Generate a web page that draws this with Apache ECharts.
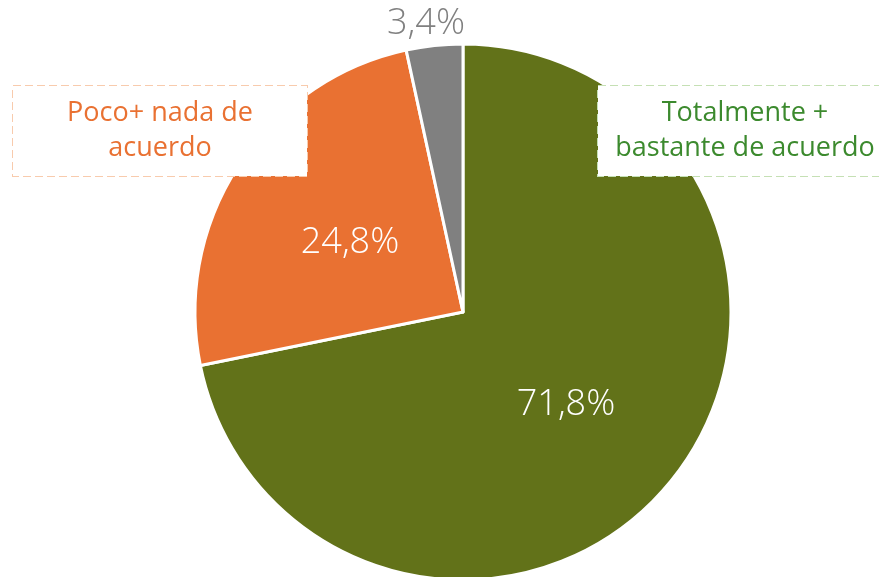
<!DOCTYPE html>
<html>
<head>
<meta charset="utf-8">
<script src="https://cdn.jsdelivr.net/npm/echarts@6/dist/echarts.min.js"></script>
<style>
  html, body { margin: 0; padding: 0; background: #fff; }
  #pie { width: 879px; height: 577px; }
</style>
</head>
<body>
<div id="pie"></div>
<script>
// datos del gráfico
var categorias = ['Totalmente +\nbastante de acuerdo', 'Poco+ nada de\nacuerdo', 'NS/NC'];
var valores = [71.8, 24.8, 3.4];
var colores = ['#627219', '#e97132', '#808080'];
var coloresTexto = ['#3c8a2e', '#e97132', '#808080'];
var bordesCaja = ['#c5e0b4', '#f8cbad', '#d9d9d9'];

function plotPie() {
    var myChart = echarts.init(document.getElementById('pie'));

    var data = [];
    for (var i = 0; i < valores.length; i++) {
        data.push({
            value: valores[i],
            name: categorias[i],
            itemStyle: { color: colores[i] },
            label: { color: i === 2 ? '#808080' : '#fff' }
        });
    }

    // etiquetas con el nombre (cajas blancas)
    var dataNombres = [];
    for (var j = 0; j < valores.length; j++) {
        dataNombres.push({
            value: valores[j],
            name: categorias[j],
            label: {
                show: j < 2,
                color: coloresTexto[j],
                borderColor: bordesCaja[j]
            }
        });
    }

    var option = {
        animation: false,
        series: [
            {
                type: 'pie',
                center: [463, 312],
                radius: 268,
                startAngle: 90,
                data: data,
                itemStyle: { borderColor: '#fff', borderWidth: 3 },
                label: {
                    position: 'inside',
                    fontFamily: 'Open Sans',
                    fontWeight: 300,
                    fontSize: 36,
                    formatter: function (p) {
                        return String(p.value).replace('.', ',') + '%';
                    }
                },
                labelLine: { show: false },
                labelLayout: function (p) {
                    if (p.dataIndex === 2) {
                        return { x: 426, y: 24, align: 'center', verticalAlign: 'middle' };
                    }
                    if (p.dataIndex === 0) {
                        return { x: 566, y: 405, align: 'center', verticalAlign: 'middle' };
                    }
                    return { x: 350, y: 243, align: 'center', verticalAlign: 'middle' };
                },
                emphasis: { disabled: true }
            },
            {
                type: 'pie',
                silent: true,
                center: [463, 312],
                radius: 268,
                startAngle: 90,
                data: dataNombres,
                itemStyle: { color: 'rgba(0,0,0,0)' },
                label: {
                    position: 'outside',
                    fontFamily: 'Open Sans',
                    fontSize: 27,
                    lineHeight: 35,
                    backgroundColor: '#fff',
                    borderType: 'dashed',
                    borderWidth: 1,
                    padding: [10, 10, 10, 10],
                    width: 274,
                    formatter: '{b}'
                },
                labelLine: { show: false },
                labelLayout: function (p) {
                    if (p.dataIndex === 0) {
                        return { x: 745, y: 131, align: 'center', verticalAlign: 'middle' };
                    }
                    return { x: 160, y: 131, align: 'center', verticalAlign: 'middle' };
                },
                emphasis: { disabled: true }
            }
        ]
    };

    myChart.setOption(option);
}

plotPie();
</script>
</body>
</html>
